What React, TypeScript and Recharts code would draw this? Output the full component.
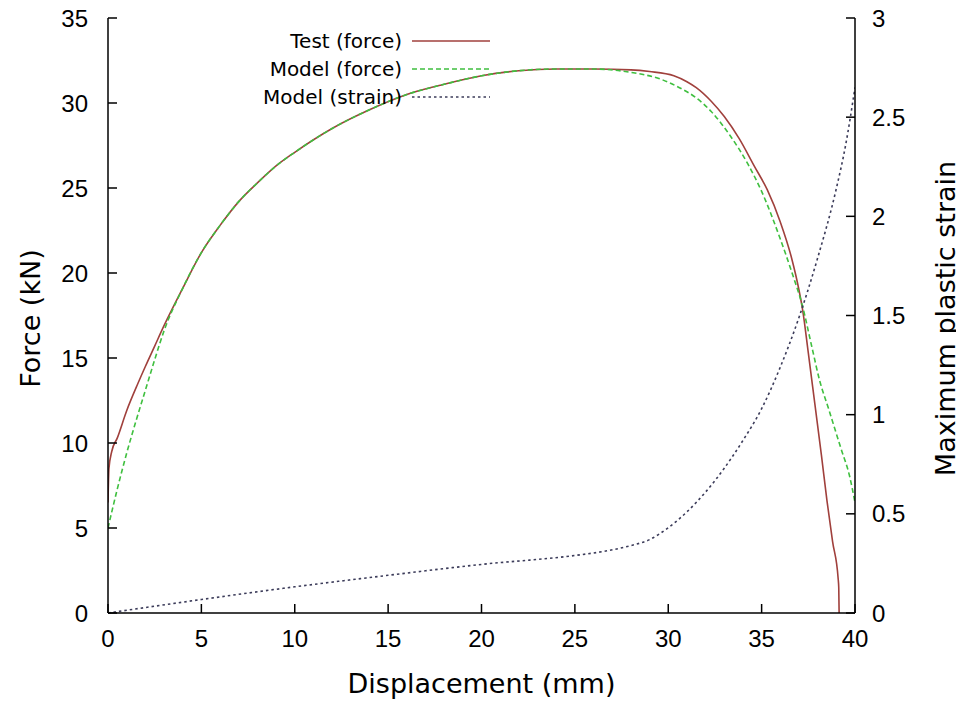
import React from 'react';
import { LineChart, Line, XAxis, YAxis, Legend } from 'recharts';

// Displacement (mm), force (kN) for the test curve
const testDisp = [0, 0.05, 0.2, 0.5, 1, 1.6, 2, 2.5, 3, 4, 5, 6, 7, 8, 9, 10, 12, 14, 16, 18, 20, 22, 24, 26, 28, 29, 30.3, 31, 31.5, 32.3, 33, 33.8, 34.6, 35.3, 36, 36.6, 37, 37.2, 37.5, 37.85, 38.2, 38.5, 38.8, 39.1, 39.13, 39.15];
const testForce = [6.5, 8.5, 9.5, 10.3, 11.9, 13.5, 14.5, 15.7, 16.9, 19.1, 21.2, 22.8, 24.2, 25.3, 26.3, 27.1, 28.5, 29.6, 30.5, 31.1, 31.6, 31.9, 32.0, 32.0, 31.95, 31.85, 31.6, 31.25, 30.9, 30.1, 29.2, 27.9, 26.3, 24.9, 23.0, 20.9, 19.0, 17.8, 15.3, 12.3, 9.3, 6.6, 4.2, 2.0, 1.5, 0];

// Model force
const modelDisp = [0, 0.5, 1, 1.5, 2, 2.5, 3, 4, 5, 6, 7, 8, 9, 10, 12, 14, 16, 18, 20, 22, 24, 26, 28, 29.6, 30.6, 31.5, 32.3, 33.3, 34.27, 35, 36, 36.6, 37.2, 37.7, 38.1, 38.56, 39.27, 39.7, 40];
const modelForce = [5, 7.3, 9.4, 11.3, 13.1, 14.9, 16.6, 19.1, 21.2, 22.8, 24.2, 25.3, 26.3, 27.1, 28.5, 29.6, 30.5, 31.1, 31.6, 31.9, 32.0, 32.0, 31.8, 31.4, 30.9, 30.3, 29.5, 28.1, 26.4, 24.8, 22.0, 20.1, 18.0, 15.6, 13.7, 12.1, 9.6, 8.1, 6.5];

// Model maximum plastic strain
const strainDisp = [0, 5, 10, 15, 20, 25, 26.5, 28, 29, 30, 31, 32, 33, 34, 35, 36, 37, 38, 39, 39.5, 40];
const strainValue = [0, 0.068, 0.132, 0.19, 0.245, 0.29, 0.31, 0.34, 0.37, 0.43, 0.51, 0.61, 0.73, 0.87, 1.03, 1.24, 1.49, 1.79, 2.14, 2.36, 2.65];

const xTicks = [0, 5, 10, 15, 20, 25, 30, 35, 40];
const forceTicks = [0, 5, 10, 15, 20, 25, 30, 35];
const strainTicks = [0, 0.5, 1, 1.5, 2, 2.5, 3];

const seriesOrder = ['Test (force)', 'Model (force)', 'Model (strain)'];

const zip = (xs: number[], ys: number[]) => xs.map((x, i) => ({ x, y: ys[i] }));
const testData = zip(testDisp, testForce);
const modelData = zip(modelDisp, modelForce);
const strainData = zip(strainDisp, strainValue);

const TICK_FONT = '"Liberation Sans", Arial, sans-serif';
const TITLE_FONT = '"DejaVu Sans", sans-serif';
const TICK_LEN = 9;

const LeftTick = (p: any) => {
  const m = 20;
  const ax = p.x + m;
  return (
    <g>
      <line x1={ax} x2={ax + TICK_LEN} y1={p.y} y2={p.y} stroke="#000" strokeWidth={1.5} />
      <text x={p.x} y={p.y} textAnchor="end" dominantBaseline="central" fontFamily={TICK_FONT} fontSize={24} fill="#000">
        {p.payload.value}
      </text>
    </g>
  );
};

const RightTick = (p: any) => {
  const m = 17;
  const ax = p.x - m;
  return (
    <g>
      <line x1={ax} x2={ax - TICK_LEN} y1={p.y} y2={p.y} stroke="#000" strokeWidth={1.5} />
      <text x={p.x} y={p.y} textAnchor="start" dominantBaseline="central" fontFamily={TICK_FONT} fontSize={24} fill="#000">
        {p.payload.value}
      </text>
    </g>
  );
};

const BottomTick = (p: any) => {
  const m = 25;
  const ay = p.y - m;
  return (
    <g>
      <line x1={p.x} x2={p.x} y1={ay} y2={ay - TICK_LEN} stroke="#000" strokeWidth={1.5} />
      <text x={p.x} y={p.y} textAnchor="middle" dominantBaseline="central" fontFamily={TICK_FONT} fontSize={24} fill="#000">
        {p.payload.value}
      </text>
    </g>
  );
};

const TopTick = (p: any) => (
  <line x1={p.x} x2={p.x} y1={p.y} y2={p.y + TICK_LEN} stroke="#000" strokeWidth={1.5} />
);

const XTitle = (p: any) => {
  const vb = p.viewBox || { x: 0, y: 0, width: 0, height: 0 };
  return (
    <text x={vb.x + vb.width / 2} y={vb.y + 70} textAnchor="middle" dominantBaseline="central" fontFamily={TITLE_FONT} fontSize={27} fill="#000">
      Displacement (mm)
    </text>
  );
};

const LeftTitle = (p: any) => {
  const vb = p.viewBox || { x: 0, y: 0, width: 0, height: 0 };
  const cx = vb.x + 30;
  const cy = vb.y + vb.height / 2 + 3;
  return (
    <text x={cx} y={cy} transform={`rotate(-90 ${cx} ${cy})`} textAnchor="middle" dominantBaseline="central" fontFamily={TITLE_FONT} fontSize={27} fill="#000">
      Force (kN)
    </text>
  );
};

const RightTitle = (p: any) => {
  const vb = p.viewBox || { x: 0, y: 0, width: 0, height: 0 };
  const cx = vb.x + 90;
  const cy = vb.y + vb.height / 2 + 3;
  return (
    <text x={cx} y={cy} transform={`rotate(-90 ${cx} ${cy})`} textAnchor="middle" dominantBaseline="central" fontFamily={TITLE_FONT} fontSize={27} fill="#000">
      Maximum plastic strain
    </text>
  );
};

const LegendContent = (props: any) => {
  const payload = [...(props.payload || [])].sort(
    (a: any, b: any) => seriesOrder.indexOf(a.value) - seriesOrder.indexOf(b.value)
  );
  return (
    <div style={{ fontFamily: TITLE_FONT, fontSize: 20, color: '#000' }}>
      {payload.map((e: any, i: number) => (
        <div key={i} style={{ display: 'flex', alignItems: 'center', height: 28 }}>
          <div style={{ width: 200, textAlign: 'right', whiteSpace: 'nowrap' }}>{e.value}</div>
          <svg width={90} height={10} style={{ marginLeft: 10 }}>
            <line x1={0} x2={78} y1={5} y2={5} stroke={e.color} strokeWidth={1.5} strokeDasharray={e.payload && e.payload.strokeDasharray} />
          </svg>
        </div>
      ))}
    </div>
  );
};

export default function App() {
  return (
    <div style={{ width: 964, height: 702, margin: '-8px 0 0 -8px' }}>
      <LineChart width={964} height={702} margin={{ top: 18, right: 0, bottom: 0, left: 0 }}>
        <XAxis
          dataKey="x"
          type="number"
          domain={[0, 40]}
          ticks={xTicks}
          allowDataOverflow
          height={89}
          tickSize={0}
          tickMargin={25}
          tickLine={false}
          axisLine={{ stroke: '#000', strokeWidth: 1.5 }}
          tick={<BottomTick />}
          interval={0}
          label={<XTitle />}
        />
        <XAxis
          xAxisId="top"
          orientation="top"
          dataKey="x"
          type="number"
          domain={[0, 40]}
          ticks={xTicks}
          height={0}
          tickSize={0}
          tickMargin={0}
          tickLine={false}
          axisLine={{ stroke: '#000', strokeWidth: 1.5 }}
          tick={<TopTick />}
          interval={0}
        />
        <YAxis
          yAxisId="left"
          type="number"
          domain={[0, 35]}
          ticks={forceTicks}
          width={108}
          tickSize={0}
          tickMargin={20}
          tickLine={false}
          axisLine={{ stroke: '#000', strokeWidth: 1.5 }}
          tick={<LeftTick />}
          interval={0}
          label={<LeftTitle />}
        />
        <YAxis
          yAxisId="right"
          orientation="right"
          type="number"
          domain={[0, 3]}
          ticks={strainTicks}
          width={109}
          tickSize={0}
          tickMargin={17}
          tickLine={false}
          axisLine={{ stroke: '#000', strokeWidth: 1.5 }}
          tick={<RightTick />}
          interval={0}
          label={<RightTitle />}
        />
        <Legend
          layout="vertical"
          align="center"
          verticalAlign="middle"
          itemSorter={null as any}
          wrapperStyle={{ left: 202, top: 27, width: 310 }}
          content={<LegendContent />}
        />
        <Line
          yAxisId="left"
          data={testData}
          dataKey="y"
          name="Test (force)"
          type="monotone"
          stroke="#a0403c"
          strokeWidth={1.6}
          dot={false}
          isAnimationActive={false}
        />
        <Line
          yAxisId="left"
          data={modelData}
          dataKey="y"
          name="Model (force)"
          type="monotone"
          stroke="#3fbf3f"
          strokeWidth={1.6}
          strokeDasharray="5 3"
          dot={false}
          isAnimationActive={false}
        />
        <Line
          yAxisId="right"
          data={strainData}
          dataKey="y"
          name="Model (strain)"
          type="monotone"
          stroke="#3c3c5a"
          strokeWidth={1.6}
          strokeDasharray="2.5 3"
          dot={false}
          isAnimationActive={false}
        />
      </LineChart>
    </div>
  );
}
